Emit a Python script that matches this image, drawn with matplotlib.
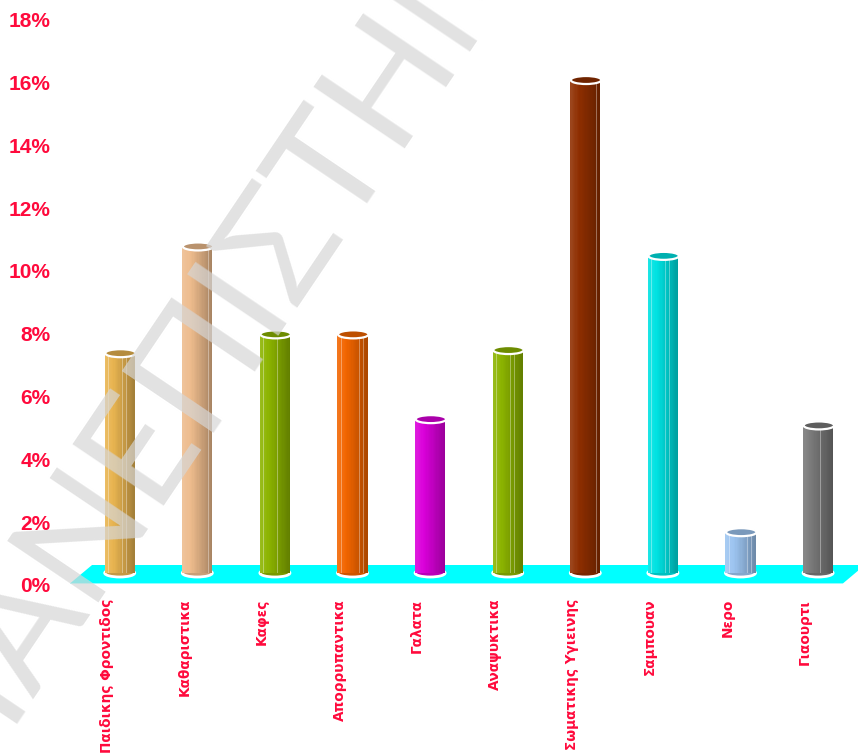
import numpy as np
import matplotlib
matplotlib.use("Agg")
import matplotlib.pyplot as plt
from matplotlib.patches import Rectangle, Ellipse, Polygon
from matplotlib.transforms import ScaledTranslation
from matplotlib.colors import to_rgb

# data
categories = ["Παιδικης Φροντιδος", "Καθαριστικα", "Καφες", "Απορρυπαντικα", "Γαλατα",
              "Αναψυκτικα", "Σωματικης Υγιεινης", "Σαμπουαν", "Νερο", "Γιαουρτι"]
values = [7.0, 10.4, 7.6, 7.6, 4.9, 7.1, 15.7, 10.1, 1.3, 4.7]
bar_colors = ["#E8B450", "#EDBB8C", "#8CB400", "#F26500", "#DA00DA",
              "#8CB400", "#8E2E00", "#00E2E2", "#9CC4F0", "#787878"]
y_ticks = [0, 2, 4, 6, 8, 10, 12, 14, 16, 18]

label_red = "#FF0A3C"

fig = plt.figure(figsize=(8.58, 7.55), dpi=100)
ax = fig.add_axes([60/858, (755-596)/755, 798/858, 591/755])
ax.set_xlim(-0.602, 9.682)
ax.set_ylim((585-596)/31.4, (585-5)/31.4)
for s in ax.spines.values():
    s.set_visible(False)

ax.set_yticks(y_ticks)
ax.set_yticklabels([f"{t}%" for t in y_ticks], color=label_red, fontsize=15,
                   fontweight="bold", family="Liberation Sans")
ax.set_xticks(range(len(categories)))
ax.set_xticklabels(categories, rotation=90, color=label_red, fontsize=9.8,
                   fontweight="bold", family="DejaVu Sans", va="top", ha="center")
ax.tick_params(axis="y", length=0, pad=7)
ax.tick_params(axis="x", length=0, pad=2)

n = len(categories)
# cyan floor
floor = Polygon([(-0.473, 0.05), (n - 1 + 0.488, 0.05), (n - 1 + 0.77, 0.637), (-0.189, 0.637)],
                closed=True, facecolor="#00FFFF", edgecolor="none", zorder=1, clip_on=False)
ax.add_patch(floor)

# bars sit "behind" the front edge of the floor
depth = ax.transData + ScaledTranslation(13/100, 12/100, fig.dpi_scale_trans)


def shade(c, f):
    c = np.array(to_rgb(c))
    if f >= 1:
        return tuple(c + (1 - c) * (f - 1))
    return tuple(c * f)


w = 0.387
eh = 0.255
nstrip = 24
for i, (v, c) in enumerate(zip(values, bar_colors)):
    x0 = i - w / 2
    # bottom rim
    ax.add_patch(Ellipse((i, 0), w, eh, facecolor=shade(c, 0.85), edgecolor="white",
                         lw=2, transform=depth, zorder=2))
    for k in range(nstrip):
        t = (k + 0.5) / nstrip
        f = 1.12 - 0.42 * t
        ax.add_patch(Rectangle((x0 + k * w / nstrip, 0), w / nstrip * 1.05, v,
                               facecolor=shade(c, f), edgecolor="none",
                               transform=depth, zorder=3))
    for t in (0.12, 0.58, 0.72, 0.86):
        ax.add_patch(Rectangle((x0 + t * w, 0), w * 0.015, v, facecolor="white",
                               alpha=0.35, edgecolor="none", transform=depth, zorder=3))
    # top cap
    ax.add_patch(Ellipse((i + 0.01, v), w * 1.02, eh, facecolor=shade(c, 0.78),
                         edgecolor="white", lw=1.6, transform=depth, zorder=4))

# watermark
fig.text(259/858, (755-266)/755, "ΠΑΝΕΠΙΣΤΗΜΙΟ", rotation=56, rotation_mode="anchor",
         ha="center", va="center", fontsize=110, family="Lato", fontweight="normal",
         color="#d6d6d6", alpha=0.7, zorder=10)

fig.savefig("out.png", dpi=100)
